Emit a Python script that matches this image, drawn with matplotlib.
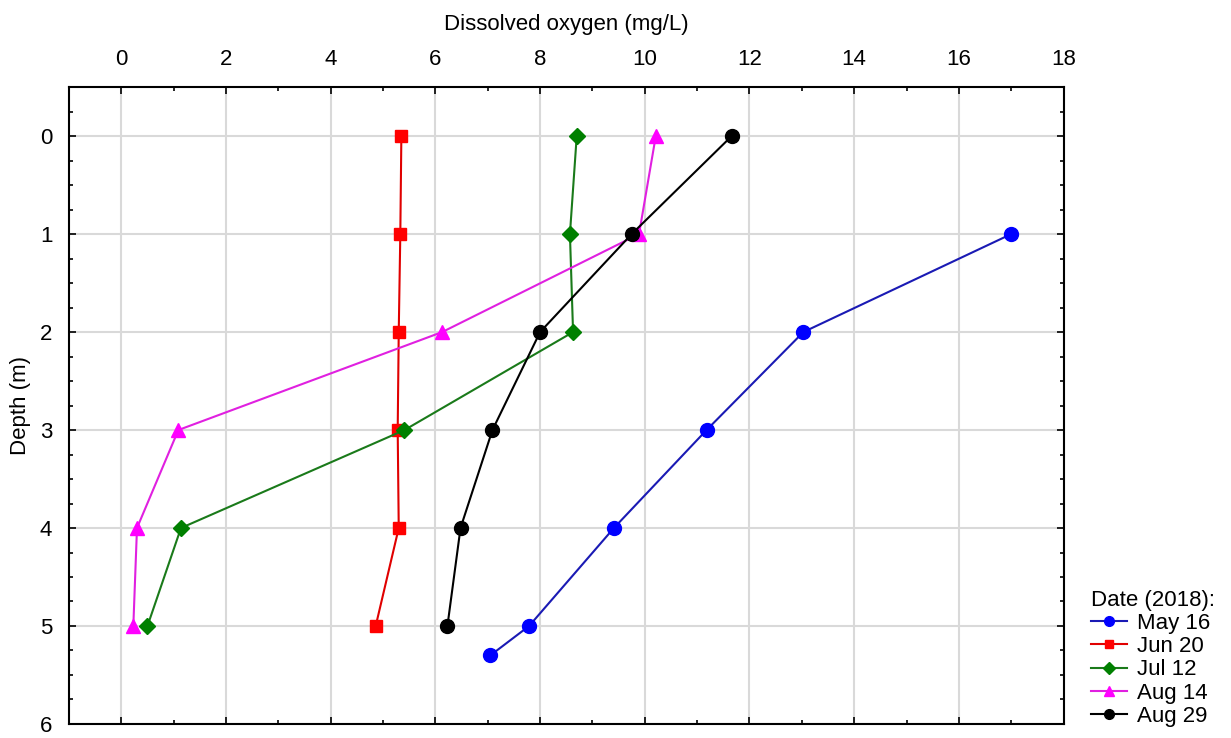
import matplotlib.pyplot as plt
from matplotlib.ticker import MultipleLocator

plt.rcParams['font.family'] = ['Liberation Sans', 'DejaVu Sans']

# Profundidade (m) e oxigênio dissolvido (mg/L) por data
depth_may = [1, 2, 3, 4, 5, 5.3]
do_may = [17.0, 13.03, 11.18, 9.41, 7.79, 7.05]

depth = [0, 1, 2, 3, 4, 5]
do_jun = [5.35, 5.33, 5.30, 5.28, 5.30, 4.86]
do_jul = [8.70, 8.57, 8.63, 5.41, 1.14, 0.50]
do_aug14 = [10.21, 9.89, 6.13, 1.09, 0.30, 0.23]
do_aug29 = [11.66, 9.75, 8.00, 7.09, 6.48, 6.23]

labels = ['May 16', 'Jun 20', 'Jul 12', 'Aug 14', 'Aug 29']

fig = plt.figure(figsize=(12.31, 7.38), dpi=100)
ax = fig.add_axes([0.056, 0.019, 0.808, 0.863])

ax.plot(do_may, depth_may, '-o', color='#1a1ab4', mfc='#0000ff', mec='#0000ff',
        ms=10, lw=1.5, label=labels[0])
ax.plot(do_jun, depth, '-s', color='#e00000', mfc='#ff0000', mec='#ff0000',
        ms=9, lw=1.5, label=labels[1])
ax.plot(do_jul, depth, '-D', color='#1a7a1a', mfc='#008000', mec='#008000',
        ms=8.5, lw=1.5, label=labels[2])
ax.plot(do_aug14, depth, '-^', color='#e020e0', mfc='#ff00ff', mec='#ff00ff',
        ms=10.5, lw=1.5, label=labels[3])
ax.plot(do_aug29, depth, '-o', color='black', mfc='black', mec='black',
        ms=10, lw=1.5, label=labels[4])

ax.set_xlim(-1, 18)
ax.set_ylim(6, -0.5)
ax.xaxis.set_major_locator(MultipleLocator(2))
ax.xaxis.set_minor_locator(MultipleLocator(1))
ax.yaxis.set_major_locator(MultipleLocator(1))
ax.yaxis.set_minor_locator(MultipleLocator(0.25))
ax.xaxis.tick_top()
ax.xaxis.set_label_position('top')
ax.tick_params(which='both', direction='in', top=True, bottom=True, left=True, right=True,
               labelsize=16, width=1.2)
ax.tick_params(which='major', length=5, pad=12)
ax.tick_params(which='minor', length=3)
ax.grid(True, which='major', color='#d9d9d9', lw=1.5)
ax.set_axisbelow(True)
for s in ax.spines.values():
    s.set_linewidth(1.5)

ax.set_xlabel('Dissolved oxygen (mg/L)', fontsize=16, labelpad=14)
ax.set_ylabel('Depth (m)', fontsize=16, labelpad=6)

leg = ax.legend(title='Date (2018):', loc='lower left', bbox_to_anchor=(1.012, -0.029),
                frameon=False, fontsize=16, title_fontsize=16, markerscale=0.7,
                handlelength=1.6, handletextpad=0.45, labelspacing=0.1, borderpad=0.2)
leg._legend_box.align = 'left'

fig.savefig('out.png', dpi=100)
